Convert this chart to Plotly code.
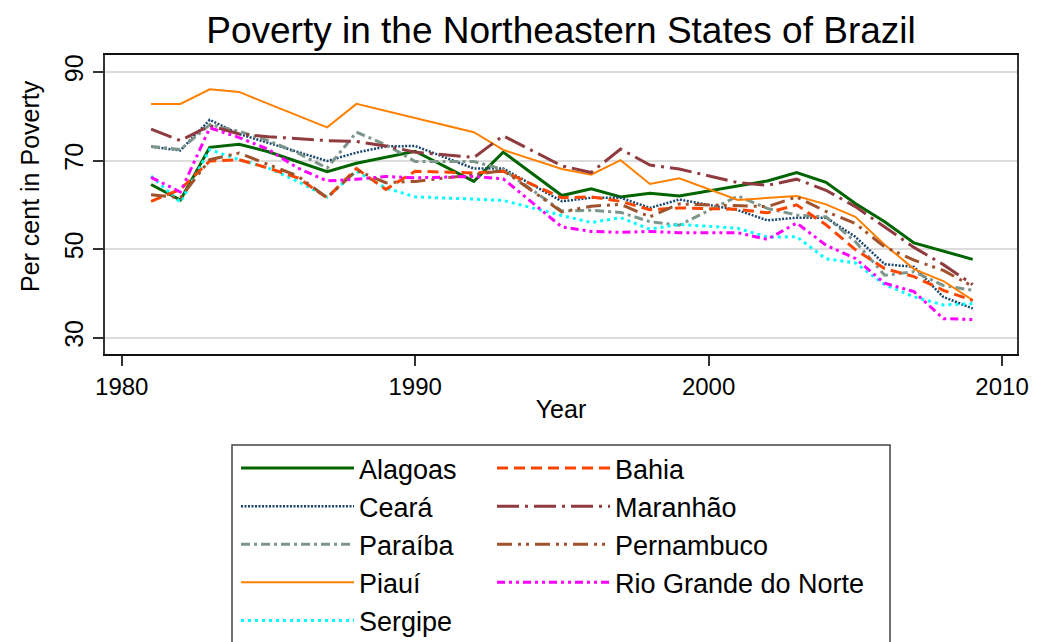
import plotly.graph_objects as go

years = [1981, 1982, 1983, 1984, 1985, 1986, 1987, 1988, 1989, 1990, 1992, 1993,
         1995, 1996, 1997, 1998, 1999, 2001, 2002, 2003, 2004, 2005, 2006, 2007, 2008, 2009]

alagoas = [64.6, 61.1, 73.0, 73.7, 72.0, 69.8, 67.5, 69.4, 70.7, 72.1, 65.3, 71.9,
           62.1, 63.6, 61.8, 62.6, 62.0, 64.2, 65.4, 67.3, 65.1, 60.3, 56.2, 51.4, 49.5, 47.7]
bahia = [60.8, 63.5, 69.9, 70.2, 68.3, 66.1, 61.6, 68.2, 63.5, 67.6, 67.2, 67.6,
         61.6, 61.8, 60.8, 58.9, 59.3, 59.0, 58.2, 60.0, 55.5, 49.9, 45.6, 43.8, 40.7, 38.4]
ceara = [73.1, 72.3, 79.2, 76.0, 74.0, 72.0, 69.9, 71.8, 73.2, 73.3, 68.2, 68.2,
         60.8, 61.6, 61.6, 59.3, 61.2, 58.8, 56.5, 57.1, 57.1, 52.8, 46.6, 46.0, 39.2, 36.6]
maranhao = [77.1, 74.5, 77.9, 76.0, 75.4, 74.9, 74.5, 74.3, 73.3, 71.9, 70.7, 75.6,
            68.8, 67.3, 72.6, 69.0, 68.1, 65.0, 64.4, 65.8, 63.3, 59.6, 55.0, 50.4, 46.5, 42.0]
paraiba = [73.2, 72.5, 78.1, 76.6, 74.5, 71.7, 68.3, 76.4, 73.6, 69.8, 69.8, 68.0,
           58.6, 58.8, 58.3, 56.2, 55.4, 62.0, 59.2, 57.7, 57.3, 51.7, 44.1, 44.9, 41.8, 40.7]
pernambuco = [62.3, 61.6, 70.2, 71.7, 69.1, 66.5, 61.6, 67.8, 65.0, 65.3, 66.8, 67.8,
              58.4, 59.7, 60.1, 57.3, 60.2, 59.9, 59.6, 61.8, 58.5, 55.8, 50.5, 47.5, 45.2, 41.6]
piaui = [82.8, 82.8, 86.1, 85.5, 82.8, 80.2, 77.5, 82.8, 81.2, 79.6, 76.4, 72.4,
         68.1, 66.8, 70.1, 64.7, 66.0, 61.1, 61.6, 62.0, 60.1, 57.3, 51.0, 45.5, 42.8, 38.5]
rgn = [66.2, 62.9, 77.4, 75.2, 72.5, 68.3, 65.4, 65.8, 66.4, 66.1, 66.4, 65.9,
       55.0, 54.0, 53.8, 54.0, 53.7, 53.7, 52.2, 55.9, 50.9, 47.9, 42.3, 40.4, 34.3, 34.1]
sergipe = [66.5, 60.6, 72.5, 70.2, 68.3, 65.3, 61.8, 67.6, 63.8, 61.8, 61.3, 61.0,
           57.6, 56.0, 57.1, 54.5, 55.6, 54.7, 52.7, 52.8, 47.8, 46.9, 42.0, 39.2, 37.4, 37.7]

y_ticks = [30, 50, 70, 90]
x_ticks = [1980, 1990, 2000, 2010]

series = [
    ("Alagoas", alagoas, "#006400", "solid", 3, "legend"),
    ("Ceará", ceara, "#1a476f", "2px,1.5px", 2.5, "legend"),
    ("Paraíba", paraiba, "#7d968b", "9px,4px,3px,4px", 3, "legend"),
    ("Piauí", piaui, "#ff8000", "solid", 2, "legend"),
    ("Sergipe", sergipe, "#00ffff", "3px,4px", 3, "legend"),
    ("Bahia", bahia, "#ff4500", "11px,6px", 3, "legend2"),
    ("Maranhão", maranhao, "#8f3b3f", "22px,6px,3px,6px", 3, "legend2"),
    ("Pernambuco", pernambuco, "#a0522d", "15px,6px,3px,5px,3px,6px", 3, "legend2"),
    ("Rio Grande do Norte", rgn, "#ff00ff", "8px,4px,3px,4px,3px,4px", 3, "legend2"),
]

fig = go.Figure()
for name, vals, color, dash, width, leg in series:
    fig.add_trace(go.Scatter(
        x=years, y=vals, name=name, mode="lines", legend=leg,
        line=dict(color=color, dash=dash, width=width),
    ))

font_family = "Liberation Sans, Arial, sans-serif"
legend_top = 1 - 444 / 642
fig.update_layout(
    width=1037, height=642,
    margin=dict(l=105, r=20, t=55, b=288, autoexpand=False),
    paper_bgcolor="white", plot_bgcolor="white",
    font=dict(family=font_family, color="black", size=25),
    title=dict(text="Poverty in the Northeastern States of Brazil",
               x=0.5, xref="paper", xanchor="center",
               y=1 - 30 / 642, yref="container", yanchor="middle",
               font=dict(size=37, family=font_family, color="black")),
    xaxis=dict(range=[1979.43, 2010.51], tickvals=x_ticks, ticks="outside",
               ticklen=10, tickwidth=1.5, tickcolor="#333", tickangle=0,
               showgrid=False, zeroline=False, showline=True, linecolor="#111",
               linewidth=2, mirror=True,
               title=dict(text="Year", standoff=2, font=dict(size=25)),
               tickfont=dict(size=24)),
    yaxis=dict(range=[26.32, 93.84], tickvals=y_ticks, ticks="outside",
               ticklen=10, tickwidth=1.5, tickcolor="#333", tickangle=-90,
               showgrid=True, gridcolor="#dcdcdc", gridwidth=2, zeroline=False,
               showline=True, linecolor="#333", linewidth=1.5, mirror=True,
               tickfont=dict(size=25)),
    legend=dict(orientation="v", xref="container", yref="container",
                x=236 / 1037, xanchor="left", y=legend_top, yanchor="top",
                itemwidth=113, font=dict(size=27, family=font_family),
                bgcolor="rgba(0,0,0,0)", borderwidth=0, tracegroupgap=0),
    legend2=dict(orientation="v", xref="container", yref="container",
                 x=492 / 1037, xanchor="left", y=legend_top, yanchor="top",
                 itemwidth=113, font=dict(size=27, family=font_family),
                 bgcolor="rgba(0,0,0,0)", borderwidth=0, tracegroupgap=0),
    showlegend=True,
)

# y axis title
fig.add_annotation(text="Per cent in Poverty", textangle=-90, showarrow=False,
                   xref="paper", yref="paper", x=(30 - 105) / 912, y=(354 - 186) / 299,
                   xanchor="center", yanchor="middle", font=dict(size=25))

# legend frame
fig.add_shape(type="rect", xref="paper", yref="paper",
              x0=(232 - 105) / 912, x1=(890 - 105) / 912,
              y0=(354 - 700) / 299, y1=(354 - 445) / 299,
              line=dict(color="#444", width=1.5), fillcolor="rgba(0,0,0,0)",
              layer="below")

fig.write_html("out.html", config={"displayModeBar": False},
               post_script="document.body.style.margin='0px';document.body.style.padding='0px';")
